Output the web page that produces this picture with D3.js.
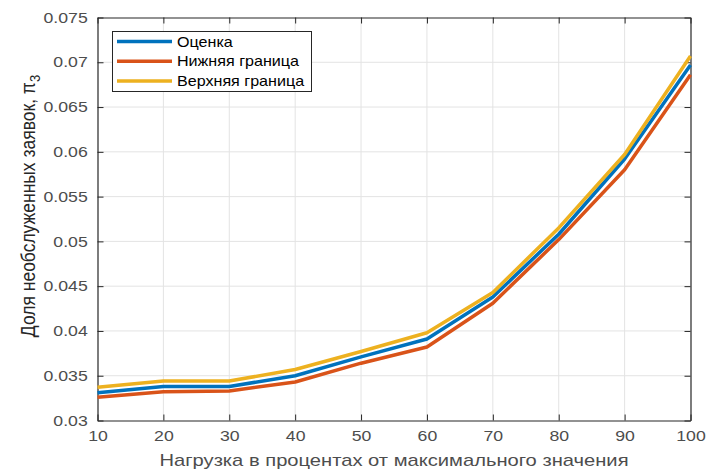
<!DOCTYPE html>
<html>
<head>
<meta charset="utf-8">
<script src="https://cdn.jsdelivr.net/npm/d3@7"></script>
<style>
  body { margin: 0; background: #fff; }
  svg text { font-family: "Liberation Sans", Arial, sans-serif; }
</style>
</head>
<body>
<svg width="715" height="473"></svg>
<script>
let loads = [10, 20, 30, 40, 50, 60, 70, 80, 90, 100];
let estimate = [0.0331, 0.0338, 0.0338, 0.0350, 0.0371, 0.0391, 0.0438, 0.0508, 0.0592, 0.0697];
let lower = [0.0326, 0.0332, 0.0333, 0.0343, 0.0364, 0.0382, 0.0431, 0.0502, 0.0580, 0.0686];
let upper = [0.0337, 0.0344, 0.0344, 0.0357, 0.0377, 0.0398, 0.0443, 0.0515, 0.0597, 0.0707];
let yTicks = [0.03, 0.035, 0.04, 0.045, 0.05, 0.055, 0.06, 0.065, 0.07, 0.075];
let seriesNames = ['Оценка', 'Нижняя граница', 'Верхняя граница'];
let seriesColors = ['#0072BD', '#D95319', '#EDB120'];

let svg = d3.select('svg');
let mLeft = 97.5, mRight = 690.5, mTop = 17.5, mBottom = 420.5;
// the picture is a bit wider than tall, so text is stretched sideways
let stretch = 1.22;

let x = d3.scaleLinear().domain([10, 100]).range([mLeft, mRight]);
let y = d3.scaleLinear().domain([0.03, 0.075]).range([mBottom, mTop]);

// grid
svg.append('g')
  .selectAll('line')
  .data(loads.slice(1, -1))
  .enter()
  .append('line')
  .attr('x1', d => x(d)).attr('x2', d => x(d))
  .attr('y1', mTop).attr('y2', mBottom)
  .attr('stroke', '#e3e3e3').attr('stroke-width', 1);
svg.append('g')
  .selectAll('line')
  .data(yTicks.slice(1, -1))
  .enter()
  .append('line')
  .attr('x1', mLeft).attr('x2', mRight)
  .attr('y1', d => y(d)).attr('y2', d => y(d))
  .attr('stroke', '#e3e3e3').attr('stroke-width', 1);

// axes (ticks inside, box)
let axisColor = '#262626';
svg.append('g').attr('transform', `translate(0,${mBottom})`)
  .call(d3.axisBottom(x).tickValues(loads).tickSize(-6).tickSizeOuter(0).tickPadding(10));
svg.append('g').attr('transform', `translate(${mLeft},0)`)
  .call(d3.axisLeft(y).tickValues(yTicks).tickFormat(d3.format('')).tickSize(-6).tickSizeOuter(0).tickPadding(8));
svg.append('g').attr('transform', `translate(0,${mTop})`)
  .call(d3.axisTop(x).tickValues(loads).tickSize(-6).tickSizeOuter(0).tickFormat(''));
svg.append('g').attr('transform', `translate(${mRight},0)`)
  .call(d3.axisRight(y).tickValues(yTicks).tickSize(-6).tickSizeOuter(0).tickFormat(''));

svg.selectAll('.domain').attr('stroke', axisColor).attr('stroke-width', 1.2);
svg.selectAll('.tick line').attr('stroke', axisColor);
svg.selectAll('.tick text')
  .attr('fill', '#4d4d4d').attr('font-size', 14.5)
  .attr('transform', `scale(${stretch},1)`);

// lines
let data = [estimate, lower, upper];
let line = d3.line().x((d, i) => x(loads[i])).y(d => y(d));
svg.append('g')
  .selectAll('path')
  .data([1, 0, 2])
  .enter()
  .append('path')
  .attr('d', k => line(data[k]))
  .attr('fill', 'none')
  .attr('stroke', k => seriesColors[k])
  .attr('stroke-width', 3.5)
  .attr('stroke-linejoin', 'round');

// axis labels
svg.append('text')
  .attr('transform', `translate(${(mLeft + mRight) / 2},466) scale(1.26,1)`)
  .attr('text-anchor', 'middle')
  .attr('font-size', 16).attr('fill', '#4d4d4d')
  .text('Нагрузка в процентах от максимального значения');

let yl = svg.append('text')
  .attr('transform', 'translate(35,206) scale(1.15,1) rotate(-90)')
  .attr('text-anchor', 'middle')
  .attr('font-size', 17.5).attr('fill', '#262626');
yl.append('tspan').text('Доля необслуженных заявок, π');
yl.append('tspan').attr('font-size', 13).attr('dy', 4).text('3');

// legend
let lg = svg.append('g');
lg.append('rect')
  .attr('x', 112.5).attr('y', 31.5).attr('width', 199).attr('height', 60)
  .attr('fill', '#fff').attr('stroke', axisColor).attr('stroke-width', 1);
seriesNames.forEach((name, i) => {
  let ry = 41.5 + i * 19.8;
  lg.append('line')
    .attr('x1', 117).attr('x2', 172).attr('y1', ry).attr('y2', ry)
    .attr('stroke', seriesColors[i]).attr('stroke-width', 3.5);
  lg.append('text')
    .attr('transform', `translate(177,${ry + 5}) scale(1.15,1)`)
    .attr('font-size', 14).attr('fill', '#000')
    .text(name);
});
</script>
</body>
</html>
